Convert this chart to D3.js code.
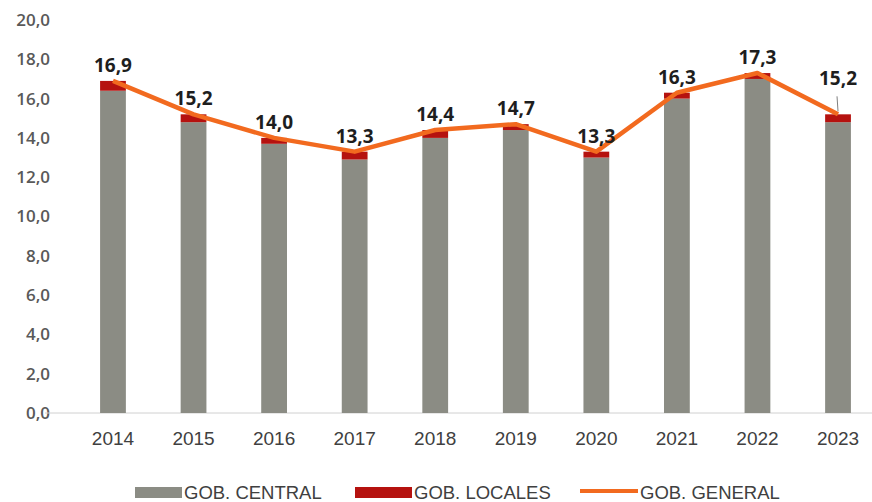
<!DOCTYPE html>
<html><head><meta charset="utf-8">
<script src="https://cdn.jsdelivr.net/npm/d3@7"></script>
<style>body{margin:0;background:#fff}svg{display:block}</style>
</head><body>
<svg id="c" width="872" height="502"></svg>
<script>
const years = ["2014","2015","2016","2017","2018","2019","2020","2021","2022","2023"];
const general = [16.9,15.2,14.0,13.3,14.4,14.7,13.3,16.3,17.3,15.2];
const locales = [0.5,0.4,0.3,0.4,0.4,0.3,0.3,0.3,0.3,0.4];
const central = general.map((g,i)=>+(g-locales[i]).toFixed(1));
const yTicks = [0,2,4,6,8,10,12,14,16,18,20];
const seriesNames = ["GOB. CENTRAL","GOB. LOCALES","GOB. GENERAL"];
const colors = {central:"#8b8c84", locales:"#b5120f", general:"#f26a1f"};

const svg = d3.select("#c");
const font = "'Liberation Sans Narrow','Arial Narrow','Liberation Sans',sans-serif";
const x = d3.scaleBand().domain(years).range([72.7,878.3]).paddingInner(0.68).paddingOuter(0.34);
const y = d3.scaleLinear().domain([0,20]).range([413,20]);
const fmt = v => v.toFixed(1).replace(".",",");

// y axis labels
const ya = svg.append("g").attr("transform","translate(52,0)")
  .call(d3.axisLeft(y).tickValues(yTicks).tickSize(0).tickPadding(2).tickFormat(fmt));
ya.select(".domain").remove();
ya.selectAll("text").attr("font-family","'Open Sans',sans-serif").attr("font-size",17).attr("font-weight",600).attr("fill","#595959");

// baseline
svg.append("line").attr("x1",45).attr("x2",872).attr("y1",y(0)).attr("y2",y(0)).attr("stroke","#d0d0d0").attr("stroke-width",1);

// bars
const g = svg.append("g");
g.selectAll(".bc").data(years).join("rect")
  .attr("x",d=>x(d)).attr("width",x.bandwidth())
  .attr("y",(d,i)=>y(central[i])).attr("height",(d,i)=>y(0)-y(central[i]))
  .attr("fill",colors.central);
g.selectAll(".bl").data(years).join("rect")
  .attr("x",d=>x(d)).attr("width",x.bandwidth())
  .attr("y",(d,i)=>y(central[i]+locales[i])).attr("height",(d,i)=>y(central[i])-y(central[i]+locales[i]))
  .attr("fill",colors.locales);

// line
const cx = d => x(d)+x.bandwidth()/2;
svg.append("path").datum(years)
  .attr("d", d3.line().x(d=>cx(d)).y((d,i)=>y(general[i])))
  .attr("fill","none").attr("stroke",colors.general).attr("stroke-width",4.5).attr("stroke-linejoin","round");

// labels
const lab = svg.append("g");
years.forEach((d,i)=>{
  const extra = d==="2023" ? 20 : 0;
  if(extra){
    lab.append("line").attr("x1",cx(d)).attr("x2",cx(d)-1).attr("y1",y(general[i])-3).attr("y2",y(general[i])-extra+2)
      .attr("stroke","#808080").attr("stroke-width",1);
  }
  lab.append("text").attr("x",cx(d)).attr("y",y(general[i])-9-extra)
    .attr("text-anchor","middle").attr("font-family","'Open Sans',sans-serif").attr("font-weight",700)
    .attr("font-size",19).attr("fill","#1e1e1e").text(fmt(general[i]));
});

// x axis labels
const xa = svg.append("g").attr("transform",`translate(0,${y(0)})`)
  .call(d3.axisBottom(x).tickSize(0).tickPadding(19));
xa.select(".domain").remove();
xa.selectAll("text").attr("font-family",font).attr("font-size",19).attr("fill","#404040");

// legend
const leg = svg.append("g");
const items = [
  {name:seriesNames[0], c:colors.central, type:"rect", x:135, tx:184},
  {name:seriesNames[1], c:colors.locales, type:"rect", x:355, tx:414},
  {name:seriesNames[2], c:colors.general, type:"line", x:580, tx:640}
];
items.forEach(it=>{
  if(it.type==="rect"){
    leg.append("rect").attr("x",it.x).attr("y",487).attr("width",it.tx-it.x-2).attr("height",11).attr("fill",it.c);
  } else {
    leg.append("line").attr("x1",it.x).attr("x2",it.tx-2).attr("y1",491).attr("y2",491).attr("stroke",it.c).attr("stroke-width",4);
  }
  leg.append("text").attr("x",it.tx).attr("y",499).attr("font-family",font).attr("font-size",18.5).attr("fill","#404040").text(it.name);
});
</script>
</body></html>
